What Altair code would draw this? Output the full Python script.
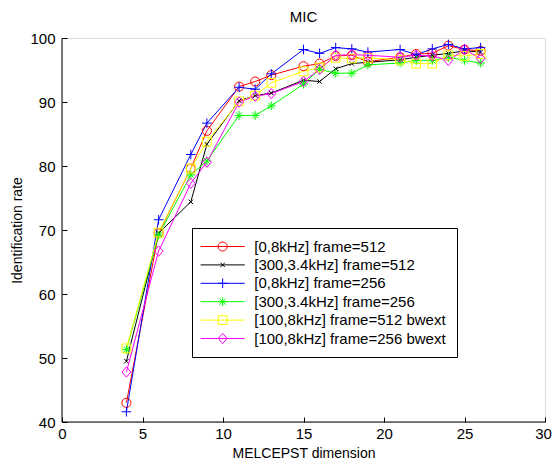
import altair as alt
import pandas as pd

x_vals = [4, 6, 8, 9, 11, 12, 13, 15, 16, 17, 18, 19, 21, 22, 23, 24, 25, 26]

series_names = [
    "[0,8kHz] frame=512",
    "[300,3.4kHz] frame=512",
    "[0,8kHz] frame=256",
    "[300,3.4kHz] frame=256",
    "[100,8kHz] frame=512 bwext",
    "[100,8kHz] frame=256 bwext",
]

red_vals = [43.0, 69.5, 79.6, 85.5, 92.4, 93.2, 94.2, 95.6, 96.0, 97.2, 97.3, 96.3, 97.0, 97.5, 97.6, 98.8, 98.2, 98.0]
black_vals = [49.5, 69.5, 74.4, 83.4, 90.2, 91.0, 91.4, 93.4, 93.2, 95.2, 96.0, 96.2, 96.6, 97.0, 97.3, 97.6, 98.0, 97.8]
blue_vals = [41.6, 71.6, 81.8, 86.7, 92.3, 92.0, 94.4, 98.2, 97.6, 98.5, 98.3, 97.8, 98.2, 97.4, 98.3, 99.0, 98.3, 98.5]
green_vals = [51.3, 69.2, 78.6, 80.8, 87.9, 87.9, 89.4, 92.8, 95.1, 94.5, 94.5, 95.8, 96.1, 96.5, 96.5, 97.0, 96.5, 96.1]
yellow_vals = [51.5, 69.6, 79.6, 83.8, 90.1, 91.0, 93.0, 94.8, 95.4, 96.9, 96.8, 96.9, 96.6, 96.0, 96.0, 97.3, 97.2, 97.5]
magenta_vals = [47.8, 66.7, 77.3, 80.6, 90.0, 90.9, 91.3, 93.2, 95.1, 97.3, 97.4, 97.3, 97.0, 97.3, 97.2, 96.5, 98.2, 96.8]

colors = ["#FF0000", "#000000", "#0000FF", "#00FF00", "#FFFF00", "#FF00FF"]

x_ticks = [0, 5, 10, 15, 20, 25, 30]
y_ticks = [40, 50, 60, 70, 80, 90, 100]

# marker shapes (unit coordinates, scaled by sqrt(size)/2)
marker_paths = [
    "M-0.62,0A0.62,0.62 0 1,0 0.62,0A0.62,0.62 0 1,0 -0.62,0Z",
    "M-0.3,-0.3L0.3,0.3M-0.3,0.3L0.3,-0.3",
    "M-0.65,0H0.65M0,-0.65V0.65",
    "M-0.6,0H0.6M0,-0.6V0.6M-0.42,-0.42L0.42,0.42M-0.42,0.42L0.42,-0.42",
    "M-0.6,-0.6H0.6V0.6H-0.6Z",
    "M0,-0.7L0.6,0L0,0.7L-0.6,0Z",
]
legend_paths = ["M-3,0H3" + p for p in marker_paths]

all_vals = [red_vals, black_vals, blue_vals, green_vals, yellow_vals, magenta_vals]
rows = []
for name, vals in zip(series_names, all_vals):
    for xv, yv in zip(x_vals, vals):
        rows.append({"dim": xv, "rate": yv, "series": name})
df = pd.DataFrame(rows)

FONT = "Liberation Sans"
MSIZE = 216

xs = alt.Scale(domain=[0, 30], nice=False)
ys = alt.Scale(domain=[40, 100], nice=False)

x_axis = alt.Axis(values=x_ticks, title="MELCEPST dimension", domain=False, grid=False,
                  tickSize=5, offset=-5, labelPadding=4, titlePadding=5, labelFlush=False,
                  labelOffset=alt.ExprRef("datum.value == 30 ? -2 : 0"),
                  labelFont=FONT, labelFontSize=15, titleFont=FONT, titleFontSize=14,
                  titleFontWeight="normal", labelColor="black", titleColor="black",
                  tickColor="black")
y_axis = alt.Axis(values=y_ticks, title="Identification rate", domain=False, grid=False,
                  tickSize=5, offset=-5, labelPadding=7, titlePadding=5, labelFlush=False,
                  labelFont=FONT, labelFontSize=15, titleFont=FONT, titleFontSize=14,
                  titleFontWeight="normal", labelColor="black", titleColor="black",
                  tickColor="black")

base = alt.Chart(df)

lines = base.mark_line(strokeWidth=1, clip=True).encode(
    x=alt.X("dim:Q", scale=xs, axis=x_axis),
    y=alt.Y("rate:Q", scale=ys, axis=y_axis),
    color=alt.Color("series:N", scale=alt.Scale(domain=series_names, range=colors), legend=None),
    detail="series:N",
)

points = base.mark_point(filled=False, strokeWidth=1, size=MSIZE, opacity=1).encode(
    x=alt.X("dim:Q", scale=xs),
    y=alt.Y("rate:Q", scale=ys),
    color=alt.Color("series:N", scale=alt.Scale(domain=series_names, range=colors), legend=None),
    shape=alt.Shape("series:N", scale=alt.Scale(domain=series_names, range=marker_paths), legend=None),
)

def make_legend():
    return alt.Legend(title=None, orient="none", legendX=130, legendY=190,
                      strokeColor="black", fillColor="white", padding=10.5,
                      labelFont=FONT, labelFontSize=15, labelColor="black", labelLimit=0,
                      symbolSize=MSIZE, symbolStrokeWidth=1,
                      symbolOffset=12.15, labelOffset=23.6, rowPadding=2.4,
                      symbolOpacity=1)

legend_layer = base.mark_point(filled=False, strokeWidth=1, size=MSIZE, opacity=1, clip=True).encode(
    x=alt.value(-100),
    y=alt.value(-100),
    color=alt.Color("series:N", scale=alt.Scale(domain=series_names, range=colors),
                    legend=make_legend()),
    shape=alt.Shape("series:N", scale=alt.Scale(domain=series_names, range=legend_paths),
                    legend=make_legend()),
)

frame_bottom = alt.Chart(pd.DataFrame({"a": [0]})).mark_rule(color="black", strokeWidth=1).encode(
    x=alt.datum(0, scale=xs), x2=alt.datum(30), y=alt.datum(40, scale=ys)
)
frame_left = alt.Chart(pd.DataFrame({"a": [0]})).mark_rule(color="black", strokeWidth=1).encode(
    x=alt.datum(0, scale=xs), y=alt.datum(40, scale=ys), y2=alt.datum(100)
)

chart = alt.layer(frame_bottom, frame_left, lines, points, legend_layer).resolve_scale(
    color="independent", shape="independent"
).properties(
    width=483, height=384,
    title=alt.TitleParams("MIC", font=FONT, fontSize=15, fontWeight="normal", color="black", offset=6),
    autosize=alt.AutoSizeParams(type="none"),
    padding={"left": 54, "top": 30, "right": 7, "bottom": 40},
).configure_view(stroke=None).configure(background="white")

chart.save("out.html", embed_options={"renderer": "svg", "actions": False})
